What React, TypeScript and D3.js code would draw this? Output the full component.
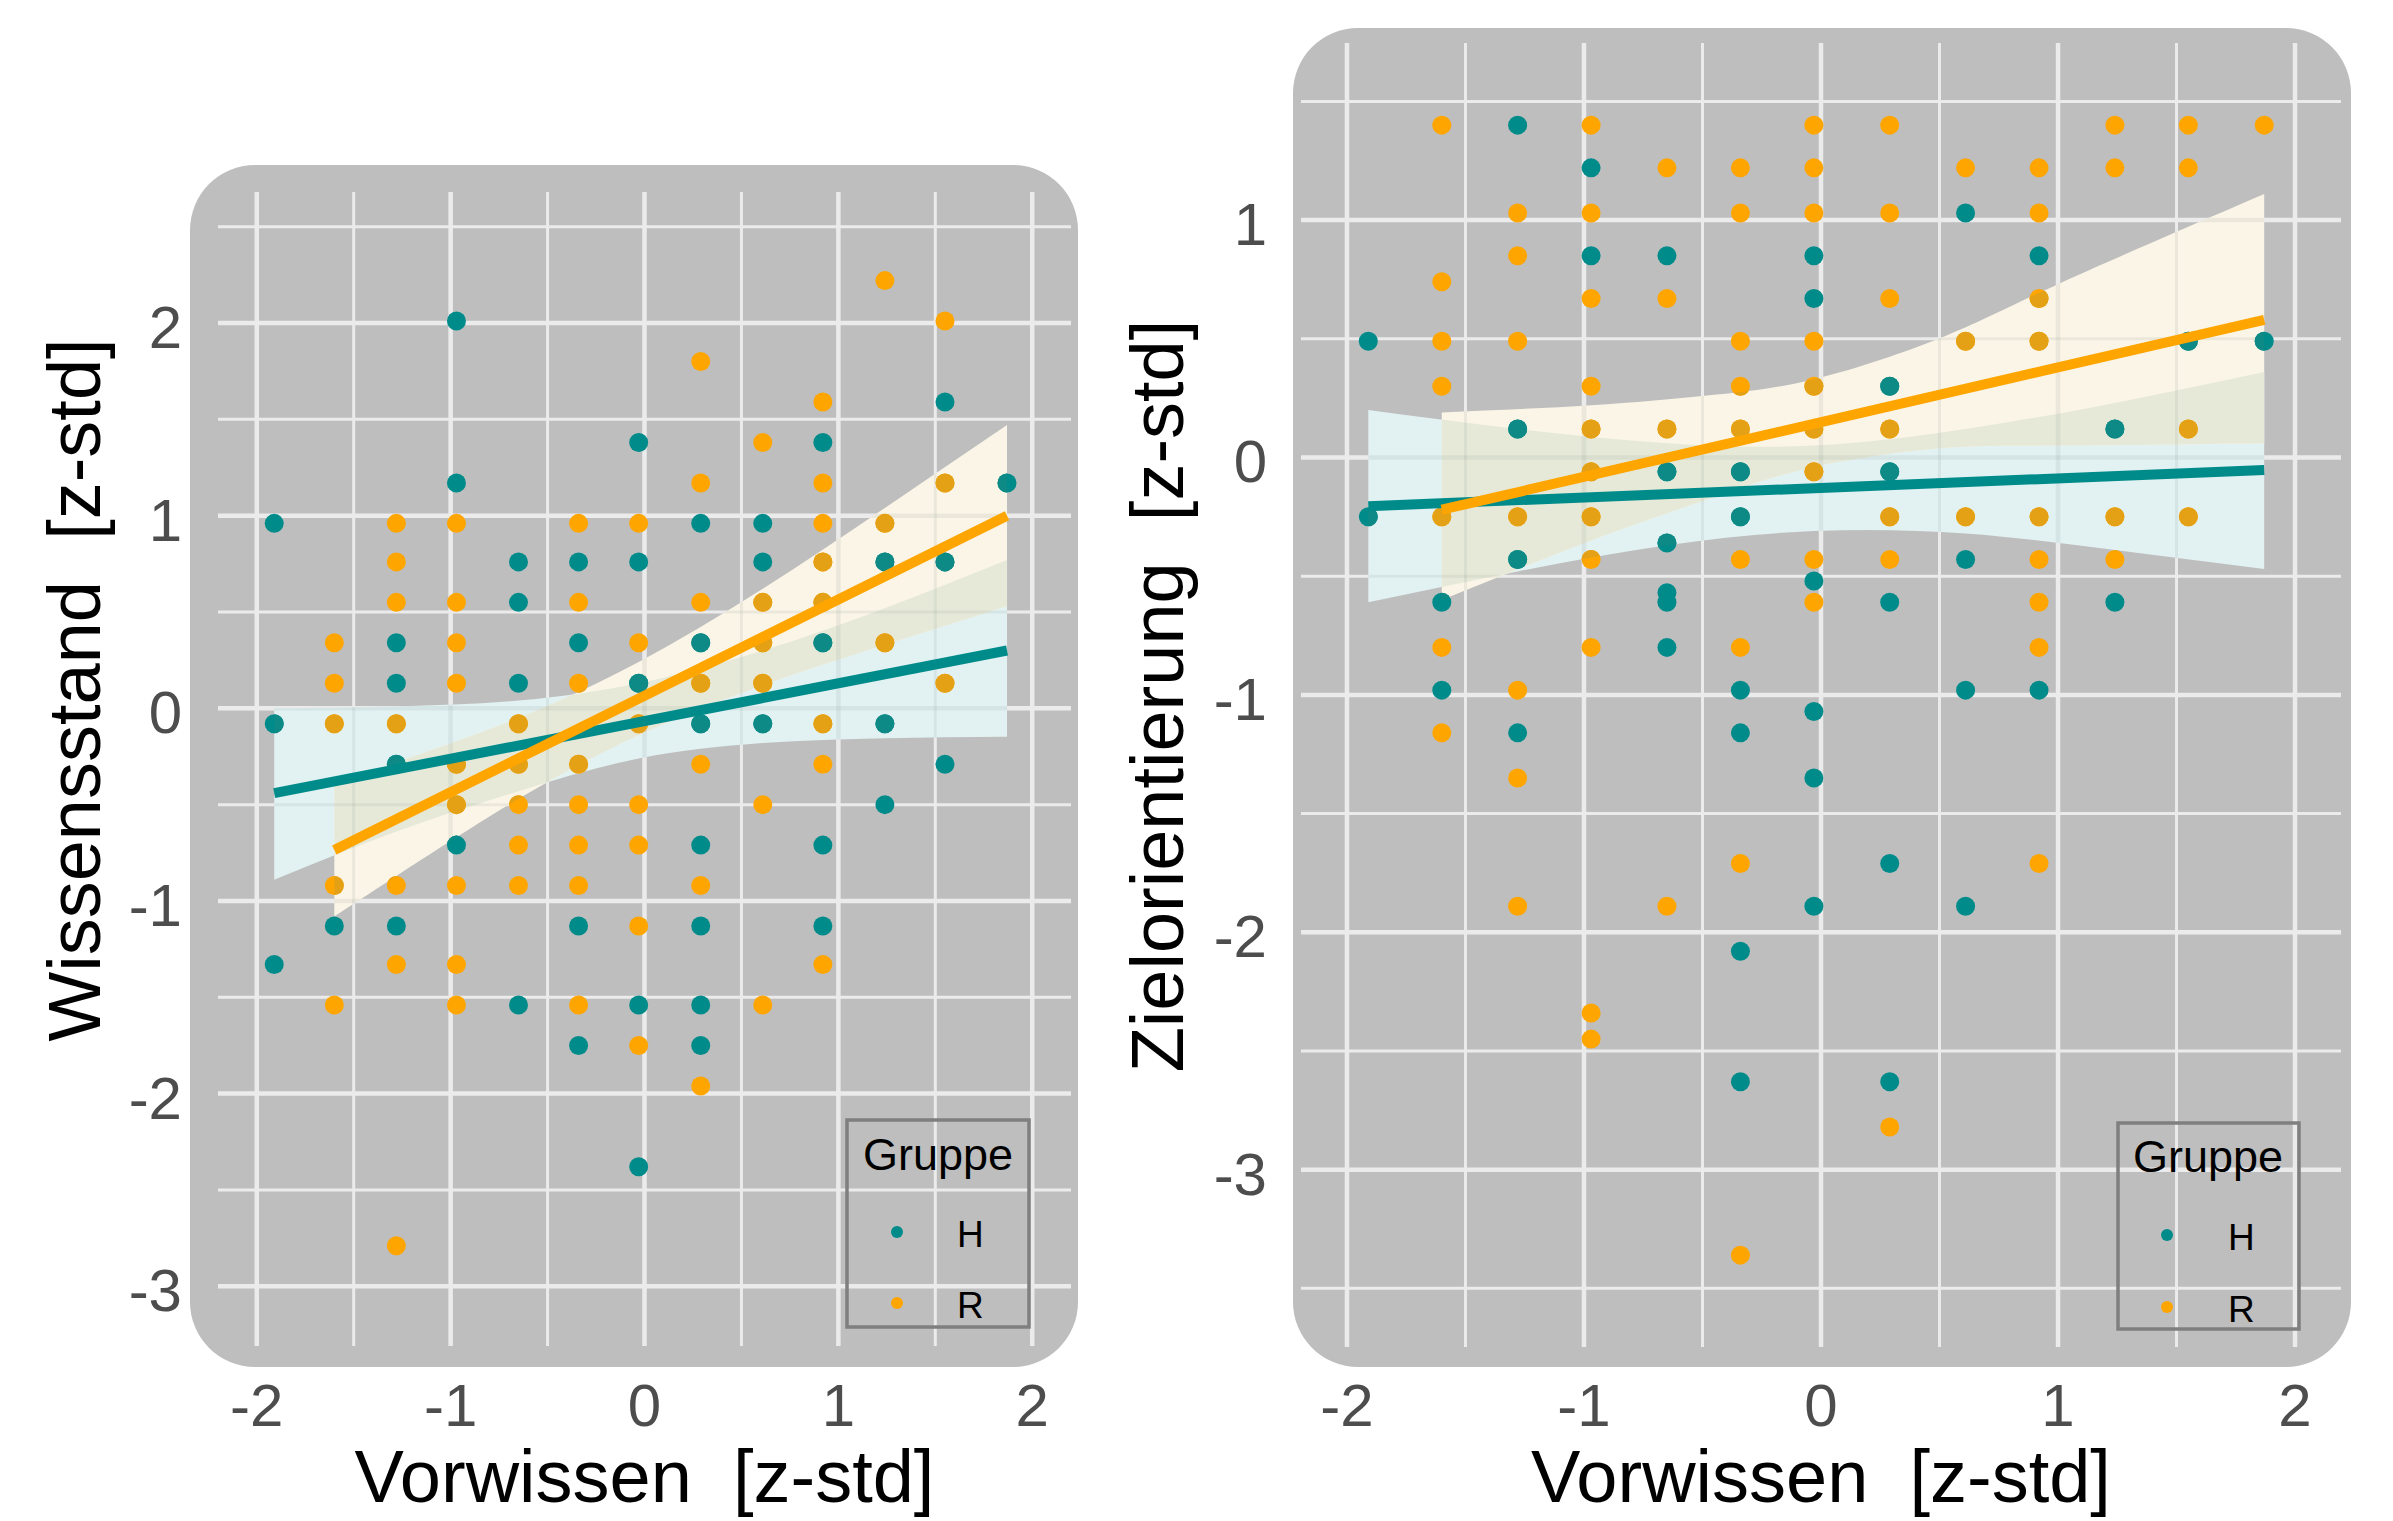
import React from "react";
import * as d3 from "d3";

type Pt = [number, number];

// ---------- Data ----------
const xTickLabels = [-2, -1, 0, 1, 2];
const leftYTickLabels = [2, 1, 0, -1, -2, -3];
const rightYTickLabels = [1, 0, -1, -2, -3];
const groups = ["H", "R"];

// Left panel: Wissensstand vs Vorwissen
const wissenH: Pt[] = [
  [-0.97, 2.01],
  [1.55, 1.59],
  [-0.03, 1.38], [0.92, 1.38],
  [-0.97, 1.17], [1.87, 1.17],
  [-1.91, 0.96], [0.29, 0.96], [0.61, 0.96],
  [-0.65, 0.76], [-0.34, 0.76], [-0.03, 0.76], [0.61, 0.76], [1.24, 0.76], [1.55, 0.76],
  [-0.65, 0.55],
  [-1.28, 0.34], [-0.34, 0.34], [0.29, 0.34], [0.92, 0.34],
  [-1.28, 0.13], [-0.65, 0.13], [-0.03, 0.13],
  [-1.91, -0.08], [0.29, -0.08], [0.61, -0.08], [1.24, -0.08],
  [-1.28, -0.29], [1.55, -0.29],
  [1.24, -0.5],
  [-0.97, -0.71], [0.29, -0.71], [0.92, -0.71],
  [-1.6, -1.13], [-1.28, -1.13], [-0.34, -1.13], [0.29, -1.13], [0.92, -1.13],
  [-1.91, -1.33],
  [-0.65, -1.54], [-0.03, -1.54], [0.29, -1.54],
  [-0.34, -1.75], [0.29, -1.75],
  [-0.03, -2.38],
];

const wissenR: Pt[] = [
  [1.24, 2.22],
  [1.55, 2.01],
  [0.29, 1.8],
  [0.92, 1.59],
  [0.61, 1.38],
  [0.29, 1.17], [0.92, 1.17], [1.55, 1.17],
  [-1.28, 0.96], [-0.97, 0.96], [-0.34, 0.96], [-0.03, 0.96], [0.92, 0.96], [1.24, 0.96],
  [-1.28, 0.76], [0.92, 0.76],
  [-1.28, 0.55], [-0.97, 0.55], [-0.34, 0.55], [0.29, 0.55], [0.61, 0.55], [0.92, 0.55],
  [-1.6, 0.34], [-0.97, 0.34], [-0.03, 0.34], [0.61, 0.34], [1.24, 0.34],
  [-1.6, 0.13], [-0.97, 0.13], [-0.34, 0.13], [0.29, 0.13], [0.61, 0.13], [1.55, 0.13],
  [-1.6, -0.08], [-1.28, -0.08], [-0.65, -0.08], [-0.03, -0.08], [0.92, -0.08],
  [-0.97, -0.29], [-0.65, -0.29], [-0.34, -0.29], [0.29, -0.29], [0.92, -0.29],
  [-0.97, -0.5], [-0.65, -0.5], [-0.34, -0.5], [-0.03, -0.5], [0.61, -0.5],
  [-0.65, -0.71], [-0.34, -0.71], [-0.03, -0.71],
  [-1.6, -0.92], [-1.28, -0.92], [-0.97, -0.92], [-0.65, -0.92], [-0.34, -0.92], [0.29, -0.92],
  [-0.03, -1.13],
  [-1.28, -1.33], [-0.97, -1.33], [0.92, -1.33],
  [-1.6, -1.54], [-0.97, -1.54], [-0.34, -1.54], [0.61, -1.54],
  [-0.03, -1.75],
  [0.29, -1.96],
  [-1.28, -2.79],
];

// Left regression lines and confidence bands
const wissenLineH = { x: [-1.91, 1.87], y: [-0.44, 0.3] };
const wissenLineR = { x: [-1.6, 1.87], y: [-0.735, 1.0] };
const wissenBandH = {
  x: [-1.91, -1.28, -0.65, -0.03, 0.61, 1.24, 1.87],
  lower: [-0.89, -0.64, -0.43, -0.26, -0.18, -0.155, -0.147],
  upper: [0.0, 0.01, 0.04, 0.13, 0.3, 0.52, 0.77],
};
const wissenBandR = {
  x: [-1.6, -1.28, -0.65, -0.03, 0.61, 1.24, 1.87],
  lower: [-1.08, -0.87, -0.47, -0.14, 0.12, 0.33, 0.53],
  upper: [-0.38, -0.28, -0.05, 0.24, 0.62, 1.04, 1.47],
};

// Right panel: Zielorientierung vs Vorwissen
const zielH: Pt[] = [
  [-1.28, 1.4],
  [-0.97, 1.22],
  [0.61, 1.03],
  [-0.97, 0.85], [-0.65, 0.85], [-0.03, 0.85], [0.92, 0.85],
  [-0.03, 0.67],
  [-1.91, 0.49], [1.55, 0.49], [1.87, 0.49],
  [0.29, 0.3],
  [-1.28, 0.12], [1.24, 0.12],
  [-0.65, -0.06], [-0.34, -0.06], [0.29, -0.06],
  [-1.91, -0.25], [-0.34, -0.25],
  [-0.65, -0.36],
  [-1.28, -0.43], [0.61, -0.43],
  [-0.03, -0.52],
  [-0.65, -0.57],
  [-1.6, -0.61], [-0.65, -0.61], [0.29, -0.61], [1.24, -0.61],
  [-0.65, -0.8],
  [-1.6, -0.98], [-0.34, -0.98], [0.61, -0.98], [0.92, -0.98],
  [-0.03, -1.07],
  [-1.28, -1.16], [-0.34, -1.16],
  [-0.03, -1.35],
  [0.29, -1.71],
  [-0.03, -1.89], [0.61, -1.89],
  [-0.34, -2.08],
  [-0.34, -2.63], [0.29, -2.63],
];

const zielR: Pt[] = [
  [-1.6, 1.4], [-0.97, 1.4], [-0.03, 1.4], [0.29, 1.4], [1.24, 1.4], [1.55, 1.4], [1.87, 1.4],
  [-0.65, 1.22], [-0.34, 1.22], [-0.03, 1.22], [0.61, 1.22], [0.92, 1.22], [1.24, 1.22], [1.55, 1.22],
  [-1.28, 1.03], [-0.97, 1.03], [-0.34, 1.03], [-0.03, 1.03], [0.29, 1.03], [0.92, 1.03],
  [-1.28, 0.85],
  [-1.6, 0.74],
  [-0.97, 0.67], [-0.65, 0.67], [0.29, 0.67], [0.92, 0.67],
  [-1.6, 0.49], [-1.28, 0.49], [-0.34, 0.49], [-0.03, 0.49], [0.61, 0.49], [0.92, 0.49],
  [-1.6, 0.3], [-0.97, 0.3], [-0.34, 0.3], [-0.03, 0.3],
  [-0.97, 0.12], [-0.65, 0.12], [-0.34, 0.12], [-0.03, 0.12], [0.29, 0.12], [1.55, 0.12],
  [-0.97, -0.06], [-0.03, -0.06],
  [-1.6, -0.25], [-1.28, -0.25], [-0.97, -0.25], [0.29, -0.25], [0.61, -0.25], [0.92, -0.25], [1.24, -0.25], [1.55, -0.25],
  [-0.97, -0.43], [-0.34, -0.43], [-0.03, -0.43], [0.29, -0.43], [0.92, -0.43], [1.24, -0.43],
  [-0.03, -0.61], [0.92, -0.61],
  [-1.6, -0.8], [-0.97, -0.8], [-0.34, -0.8], [0.92, -0.8],
  [-1.28, -0.98],
  [-1.6, -1.16],
  [-1.28, -1.35],
  [-0.34, -1.71], [0.92, -1.71],
  [-1.28, -1.89], [-0.65, -1.89],
  [-0.97, -2.34], [-0.97, -2.45],
  [0.29, -2.82],
  [-0.34, -3.36],
];

const zielLineH = { x: [-1.91, 1.87], y: [-0.205, -0.053] };
const zielLineR = { x: [-1.6, 1.87], y: [-0.22, 0.58] };
const zielBandH = {
  x: [-1.91, -1.28, -0.65, -0.03, 0.61, 1.24, 1.87],
  lower: [-0.61, -0.48, -0.37, -0.31, -0.32, -0.39, -0.47],
  upper: [0.2, 0.12, 0.06, 0.05, 0.12, 0.23, 0.36],
};
const zielBandR = {
  x: [-1.6, -0.97, -0.49, -0.03, 0.52, 1.0, 1.87],
  lower: [-0.6, -0.35, -0.18, -0.04, 0.04, 0.05, 0.06],
  upper: [0.19, 0.22, 0.26, 0.33, 0.51, 0.73, 1.11],
};

// ---------- Styles ----------
const COL_H = "#008B8B";
const COL_R = "#FFA500";
const COL_H_DIM = "#0E8A86";
const COL_R_DIM = "#E4A116";
const BAND_H = "#E2F1F1";
const BAND_R = "#FAF5E6";
const BAND_OVER = "#E6E9D8";
const PANEL_BG = "#BEBEBE";
const GRID = "#EBEBEB";
const FONT = "'Liberation Sans', Arial, Helvetica, sans-serif";

type Band = { x: number[]; lower: number[]; upper: number[] };
type Line = { x: number[]; y: number[] };

interface PanelProps {
  id: string;
  bg: { x: number; y: number; w: number; h: number };
  plot: { left: number; right: number; top: number; bottom: number };
  xDomain: [number, number];
  yDomain: [number, number];
  yTicks: number[];
  yTickX: number;
  pointsH: Pt[];
  pointsR: Pt[];
  bandH: Band;
  bandR: Band;
  lineH: Line;
  lineR: Line;
  yTitle: string;
  yTitleX: number;
  yTitleY: number;
  legend: { x: number; y: number; w: number; h: number; titleX: number; titleY: number; dotX: number; labX: number; hY: number; rY: number };
}

function Panel(p: PanelProps) {
  const x = d3.scaleLinear().domain(p.xDomain).range([p.plot.left, p.plot.right]);
  const y = d3.scaleLinear().domain(p.yDomain).range([p.plot.bottom, p.plot.top]);

  const halfSteps = (dom: [number, number]) =>
    d3.range(Math.ceil(dom[0] * 2), Math.floor(dom[1] * 2) + 1).map((k) => k / 2);
  const xAll = halfSteps(p.xDomain);
  const yAll = halfSteps(p.yDomain);
  const isMajor = (v: number) => Math.abs(v - Math.round(v)) < 1e-6;

  const area = (b: Band) =>
    d3
      .area<number>()
      .x((_, i) => x(b.x[i]))
      .y0((_, i) => y(b.lower[i]))
      .y1((_, i) => y(b.upper[i]))
      .curve(d3.curveNatural)(b.x) || "";
  const lineGen = (l: Line) =>
    d3
      .line<number>()
      .x((_, i) => x(l.x[i]))
      .y((_, i) => y(l.y[i]))(l.x) || "";

  const areaH = area(p.bandH);
  const areaR = area(p.bandR);

  const grid = (stroke: string, opacity: number) => (
    <g stroke={stroke} strokeOpacity={opacity}>
      {yAll.map((v) => (
        <line key={"gy" + v} x1={p.plot.left} x2={p.plot.right} y1={y(v)} y2={y(v)} strokeWidth={isMajor(v) ? 4.5 : 3} />
      ))}
      {xAll.map((v) => (
        <line key={"gx" + v} y1={p.plot.top} y2={p.plot.bottom} x1={x(v)} x2={x(v)} strokeWidth={isMajor(v) ? 4.5 : 3} />
      ))}
    </g>
  );

  const pts = (data: Pt[], fill: string, key: string) =>
    data.map((d, i) => <circle key={key + i} cx={x(d[0])} cy={y(d[1])} r={9.5} fill={fill} />);

  const L = p.legend;

  return (
    <g>
      <defs>
        <clipPath id={p.id + "-clipH"}>
          <path d={areaH} />
        </clipPath>
        <clipPath id={p.id + "-clipBoth"}>
          <path d={areaH} />
          <path d={areaR} />
        </clipPath>
      </defs>
      <rect x={p.bg.x} y={p.bg.y} width={p.bg.w} height={p.bg.h} rx={65} ry={65} fill={PANEL_BG} />
      {grid(GRID, 1)}
      <path d={areaH} fill={BAND_H} />
      <path d={areaR} fill={BAND_R} />
      <path d={areaR} fill={BAND_OVER} clipPath={`url(#${p.id}-clipH)`} />
      <g clipPath={`url(#${p.id}-clipBoth)`}>{grid("#5a6a6a", 0.09)}</g>
      {pts(p.pointsH, COL_H, "h")}
      {pts(p.pointsR, COL_R, "r")}
      <g clipPath={`url(#${p.id}-clipBoth)`}>
        {pts(p.pointsH, COL_H_DIM, "hd")}
        {pts(p.pointsR, COL_R_DIM, "rd")}
      </g>
      <path d={lineGen(p.lineH)} stroke={COL_H} strokeWidth={10} fill="none" />
      <path d={lineGen(p.lineR)} stroke={COL_R} strokeWidth={10} fill="none" />

      {/* y tick labels */}
      <g fontFamily={FONT} fontSize={60} fill="#4D4D4D" textAnchor="end">
        {p.yTicks.map((v) => (
          <text key={"yl" + v} x={p.yTickX} y={y(v) + 25}>
            {String(v)}
          </text>
        ))}
      </g>
      {/* x tick labels */}
      <g fontFamily={FONT} fontSize={60} fill="#4D4D4D" textAnchor="middle">
        {xTickLabels.map((v) => (
          <text key={"xl" + v} x={x(v)} y={1426}>
            {String(v)}
          </text>
        ))}
      </g>
      {/* axis titles */}
      <text
        fontFamily={FONT}
        fontSize={74}
        fill="#000"
        textAnchor="middle"
        x={(p.plot.left + p.plot.right) / 2}
        y={1502}
        style={{ whiteSpace: "pre" }}
      >
        {"Vorwissen  [z-std]"}
      </text>
      <text
        fontFamily={FONT}
        fontSize={74}
        fill="#000"
        textAnchor="middle"
        transform={`translate(${p.yTitleX},${p.yTitleY}) rotate(-90)`}
        style={{ whiteSpace: "pre" }}
      >
        {p.yTitle}
      </text>

      {/* legend */}
      <rect x={L.x} y={L.y} width={L.w} height={L.h} fill="none" stroke="#7F7F7F" strokeWidth={3.5} />
      <text fontFamily={FONT} fontSize={45} fill="#000" x={L.titleX} y={L.titleY}>
        Gruppe
      </text>
      <circle cx={L.dotX} cy={L.hY - 15} r={6} fill={COL_H} />
      <circle cx={L.dotX} cy={L.rY - 15} r={6} fill={COL_R} />
      <text fontFamily={FONT} fontSize={37} fill="#000" x={L.labX} y={L.hY}>
        {groups[0]}
      </text>
      <text fontFamily={FONT} fontSize={37} fill="#000" x={L.labX} y={L.rY}>
        {groups[1]}
      </text>
    </g>
  );
}

export default function App() {
  return (
    <svg
      width={2393}
      height={1521}
      viewBox="0 0 2393 1521"
      style={{ position: "absolute", left: 0, top: 0, background: "#FFFFFF" }}
    >
      <rect x={0} y={0} width={2393} height={1521} fill="#FFFFFF" />
      <Panel
        id="left"
        bg={{ x: 190, y: 165, w: 888, h: 1202 }}
        plot={{ left: 218, right: 1071, top: 192, bottom: 1346 }}
        xDomain={[-2.2, 2.2]}
        yDomain={[-3.31, 2.68]}
        yTicks={leftYTickLabels}
        yTickX={182}
        pointsH={wissenH}
        pointsR={wissenR}
        bandH={wissenBandH}
        bandR={wissenBandR}
        lineH={wissenLineH}
        lineR={wissenLineR}
        yTitle={"Wissensstand  [z-std]"}
        yTitleX={100}
        yTitleY={690}
        legend={{ x: 847, y: 1120, w: 182, h: 207, titleX: 863, titleY: 1170, dotX: 897, labX: 957, hY: 1247, rY: 1318 }}
      />
      <Panel
        id="right"
        bg={{ x: 1293, y: 28, w: 1058, h: 1339 }}
        plot={{ left: 1301, right: 2341, top: 43, bottom: 1347 }}
        xDomain={[-2.194, 2.194]}
        yDomain={[-3.747, 1.746]}
        yTicks={rightYTickLabels}
        yTickX={1267}
        pointsH={zielH}
        pointsR={zielR}
        bandH={zielBandH}
        bandR={zielBandR}
        lineH={zielLineH}
        lineR={zielLineR}
        yTitle={"Zielorientierung  [z-std]"}
        yTitleX={1183}
        yTitleY={696}
        legend={{ x: 2118, y: 1123, w: 181, h: 206, titleX: 2133, titleY: 1172, dotX: 2167, labX: 2228, hY: 1250, rY: 1322 }}
      />
    </svg>
  );
}
